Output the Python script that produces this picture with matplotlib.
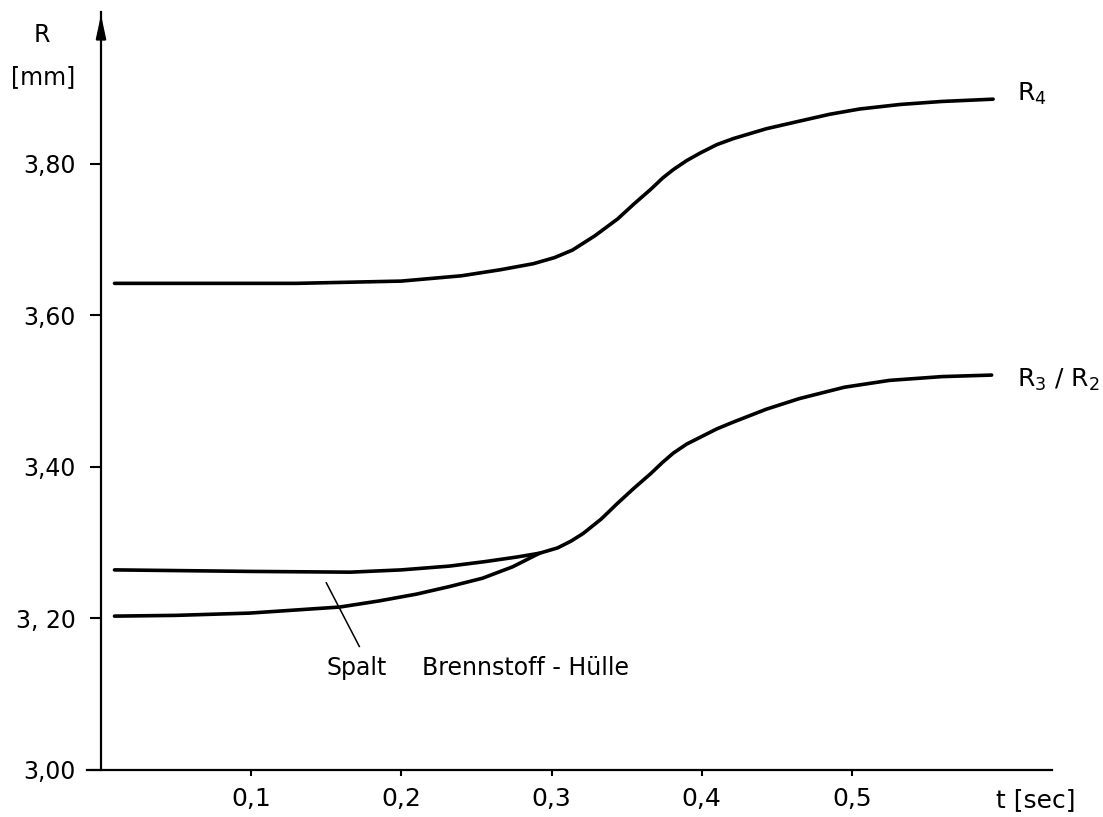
import matplotlib
matplotlib.use("Agg")
import matplotlib.pyplot as plt

# t [sec] and R [mm]
t_r4 = [0.009, 0.13, 0.20, 0.240, 0.266, 0.288, 0.302, 0.314, 0.329, 0.344,
        0.355, 0.366, 0.374, 0.381, 0.390, 0.399, 0.410, 0.421, 0.443, 0.465,
        0.485, 0.505, 0.532, 0.560, 0.594]
r_r4 = [3.642, 3.642, 3.645, 3.652, 3.660, 3.668, 3.676, 3.686, 3.705, 3.727,
        3.747, 3.766, 3.781, 3.792, 3.804, 3.814, 3.825, 3.833, 3.846, 3.856,
        3.865, 3.872, 3.878, 3.882, 3.885]

t_r3 = [0.009, 0.099, 0.166, 0.200, 0.232, 0.256, 0.277, 0.292, 0.304, 0.313,
        0.321, 0.333, 0.344, 0.355, 0.366, 0.374, 0.381, 0.390, 0.399, 0.410,
        0.421, 0.443, 0.465, 0.495, 0.525, 0.560, 0.593]
r_r3 = [3.264, 3.262, 3.261, 3.264, 3.269, 3.275, 3.281, 3.286, 3.293, 3.302,
        3.312, 3.331, 3.352, 3.372, 3.391, 3.406, 3.418, 3.430, 3.439, 3.450,
        3.459, 3.476, 3.490, 3.505, 3.514, 3.519, 3.521]

t_r2 = [0.009, 0.050, 0.099, 0.159, 0.185, 0.210, 0.232, 0.254, 0.274, 0.292]
r_r2 = [3.203, 3.204, 3.207, 3.215, 3.223, 3.232, 3.242, 3.253, 3.268, 3.286]

x_ticks = [0.1, 0.2, 0.3, 0.4, 0.5]
x_tick_labels = ["0,1", "0,2", "0,3", "0,4", "0,5"]
y_ticks = [3.0, 3.2, 3.4, 3.6, 3.8]
y_tick_labels = ["3,00", "3, 20", "3,40", "3,60", "3,80"]

plt.rcParams["font.family"] = ["DejaVu Sans"]
plt.rcParams["mathtext.default"] = "regular"

fig = plt.figure(figsize=(11.03, 8.17), dpi=100)
ax = fig.add_axes([101 / 1103, 47 / 817, 951 / 1103, 758 / 817])
ax.set_xlim(0, 0.6332)
ax.set_ylim(3.0, 4.0)

ax.spines["top"].set_visible(False)
ax.spines["right"].set_visible(False)
for s in ["left", "bottom"]:
    ax.spines[s].set_linewidth(1.6)
ax.spines["bottom"].set_bounds(-0.009, 0.6332)

ax.set_xticks(x_ticks)
ax.set_xticklabels(x_tick_labels, fontsize=18)
ax.set_yticks(y_ticks)
ax.set_yticklabels(y_tick_labels, fontsize=17)
ax.tick_params(axis="y", direction="out", length=8, width=1.5, pad=10)
ax.tick_params(axis="x", direction="out", length=4, width=1.5, pad=8)

# arrow at the top of the R axis
ax.annotate("", xy=(0, 4.0), xytext=(0, 3.96),
            arrowprops=dict(arrowstyle="-|>,head_length=1.4,head_width=0.3",
                            color="black", lw=1.6),
            annotation_clip=False)

style = dict(color="black", lw=2.6, solid_capstyle="round",
             solid_joinstyle="round")
ax.plot(t_r4, r_r4, **style)
ax.plot(t_r3, r_r3, **style)
ax.plot(t_r2, r_r2, **style)

ax.text(0.610, 3.892, "R$_4$", fontsize=18, va="center", ha="left")
ax.text(0.610, 3.514, "R$_3$ / R$_2$", fontsize=18, va="center", ha="left")

# gap label with leader line
ax.plot([0.150, 0.172], [3.247, 3.163], color="black", lw=1.1)
ax.text(0.150, 3.134, "Spalt", fontsize=17, va="center", ha="left")
ax.text(0.214, 3.134, "Brennstoff - Hülle", fontsize=17, va="center", ha="left")

ax.text(0.596, 2.96, "t [sec]", fontsize=18, va="center", ha="left",
        clip_on=False)
fig.text(42 / 1103, 1 - 35 / 817, "R", fontsize=17, va="center", ha="center")
fig.text(43 / 1103, 1 - 77 / 817, "[mm]", fontsize=17, va="center", ha="center")

fig.savefig("out.png", dpi=100)
